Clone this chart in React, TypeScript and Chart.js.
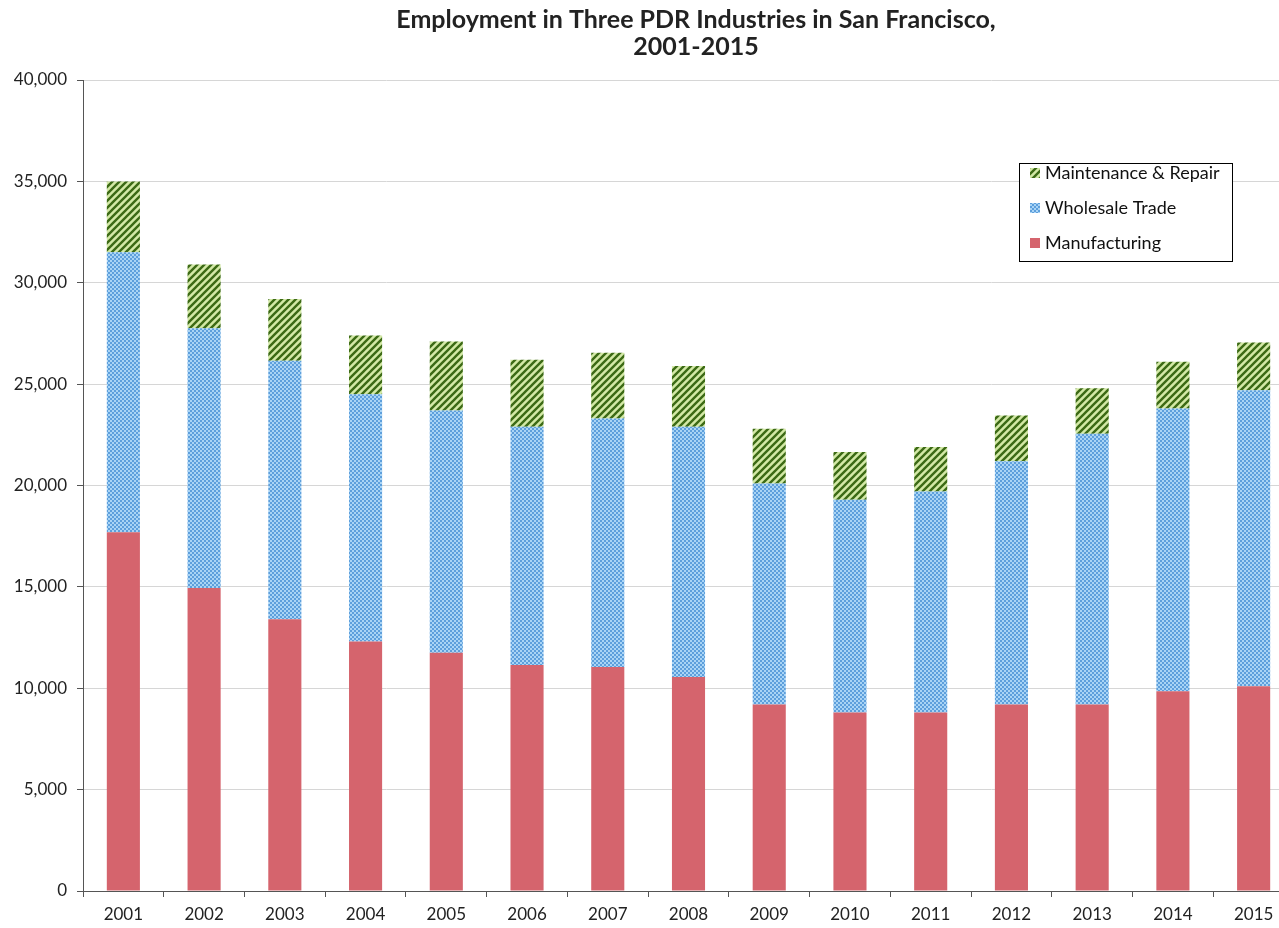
import React, { useEffect, useRef } from "react";
import { Chart, registerables } from "chart.js";

Chart.register(...registerables);

const years = ["2001", "2002", "2003", "2004", "2005", "2006", "2007", "2008", "2009", "2010", "2011", "2012", "2013", "2014", "2015"];
const manufacturing = [17700, 14950, 13400, 12300, 11750, 11150, 11050, 10550, 9200, 8800, 8800, 9200, 9200, 9850, 10100];
const wholesaleTrade = [13800, 12800, 12750, 12200, 11950, 11750, 12250, 12350, 10900, 10500, 10900, 12000, 13350, 13950, 14600];
const maintenanceRepair = [3500, 3150, 3050, 2900, 3400, 3300, 3250, 3000, 2700, 2350, 2200, 2250, 2250, 2300, 2350];
const seriesNames = ["Manufacturing", "Wholesale Trade", "Maintenance & Repair"];
const titleLines = ["Employment in Three PDR Industries in San Francisco,", "2001-2015"];

const FONT = "Lato, 'Open Sans', sans-serif";

function stripePattern(ctx: CanvasRenderingContext2D): CanvasPattern | string {
  const s = 7;
  const c = document.createElement("canvas");
  c.width = s;
  c.height = s;
  const g = c.getContext("2d");
  if (!g) return "#7fa84a";
  g.fillStyle = "#d3e9a6";
  g.fillRect(0, 0, s, s);
  g.strokeStyle = "#3c6a15";
  g.lineWidth = 2.4;
  g.beginPath();
  for (let k = -1; k <= 1; k++) {
    g.moveTo(k * s - 1, s + 1);
    g.lineTo(k * s + s + 1, -1);
  }
  g.stroke();
  return ctx.createPattern(c, "repeat") || "#7fa84a";
}

function meshPattern(ctx: CanvasRenderingContext2D): CanvasPattern | string {
  const s = 4;
  const c = document.createElement("canvas");
  c.width = s;
  c.height = s;
  const g = c.getContext("2d");
  if (!g) return "#8fc3ee";
  g.fillStyle = "#a9d4f5";
  g.fillRect(0, 0, s, s);
  g.fillStyle = "#5d9fdc";
  g.fillRect(0, 0, 2, 2);
  g.fillRect(2, 2, 2, 2);
  return ctx.createPattern(c, "repeat") || "#8fc3ee";
}

const titlePlugin = {
  id: "centredTitle",
  afterDraw(chart: any) {
    const ctx: CanvasRenderingContext2D = chart.ctx;
    ctx.save();
    ctx.fillStyle = "#222222";
    ctx.font = `bold 25px ${FONT}`;
    ctx.textAlign = "center";
    ctx.textBaseline = "middle";
    titleLines.forEach((line, i) => ctx.fillText(line, 696, 20 + i * 27));
    ctx.restore();
  },
};

const legendPlugin = {
  id: "boxLegend",
  afterDraw(chart: any) {
    const ctx: CanvasRenderingContext2D = chart.ctx;
    ctx.save();
    const x = 1019.5, y = 163.5, w = 213, h = 98;
    ctx.fillStyle = "#ffffff";
    ctx.fillRect(x, y, w, h);
    ctx.strokeStyle = "#000000";
    ctx.lineWidth = 1;
    ctx.strokeRect(x, y, w, h);
    const order = [2, 1, 0];
    order.forEach((di, i) => {
      const ds = chart.data.datasets[di];
      const cy = 173 + i * 35;
      ctx.fillStyle = ds.backgroundColor;
      ctx.fillRect(1030, cy - 5, 10, 10);
      ctx.fillStyle = "#111111";
      ctx.font = `18px ${FONT}`;
      ctx.textBaseline = "middle";
      ctx.textAlign = "left";
      ctx.fillText(ds.label, 1045, cy);
    });
    ctx.restore();
  },
};

export default function App() {
  const ref = useRef<HTMLCanvasElement | null>(null);
  useEffect(() => {
    const canvas = ref.current;
    if (!canvas) return;
    const ctx = canvas.getContext("2d");
    if (!ctx) return;
    const chart = new Chart(canvas, {
      type: "bar",
      data: {
        labels: years,
        datasets: [
          { label: seriesNames[0], data: manufacturing, backgroundColor: "#d5646d", borderWidth: 0 },
          { label: seriesNames[1], data: wholesaleTrade, backgroundColor: meshPattern(ctx) as any, borderWidth: 0 },
          { label: seriesNames[2], data: maintenanceRepair, backgroundColor: stripePattern(ctx) as any, borderWidth: 0 },
        ],
      },
      options: {
        responsive: false,
        animation: false,
        devicePixelRatio: 1,
        layout: { padding: { left: 0, right: 98, top: 80, bottom: 0 } },
        datasets: { bar: { categoryPercentage: 1, barPercentage: 0.41 } },
        plugins: {
          legend: { display: false },
          tooltip: { enabled: false },
          title: { display: false },
        },
        scales: {
          x: {
            stacked: true,
            grid: { display: true, drawOnChartArea: false, tickLength: 6, tickColor: "#555555", offset: true },
            border: { display: true, color: "#555555", width: 1 },
            ticks: { color: "#222222", font: { family: FONT, size: 17 }, padding: 7, maxRotation: 0, autoSkip: false },
            afterFit: (s: any) => { s.height = 37; },
          },
          y: {
            stacked: true,
            min: 0,
            max: 40000,
            grid: { color: "#d6d6d6", tickLength: 6, tickColor: "#555555" },
            border: { display: true, color: "#555555", width: 1 },
            ticks: {
              stepSize: 5000,
              color: "#222222",
              font: { family: FONT, size: 17 },
              padding: 10,
              callback: (v: any) => Number(v).toLocaleString("en-US"),
            },
            afterFit: (s: any) => { s.width = 83; },
          },
        },
      } as any,
      plugins: [titlePlugin, legendPlugin],
    });
    return () => chart.destroy();
  }, []);

  return (
    <div style={{ position: "fixed", left: 0, top: 0, width: 1279, height: 928, overflow: "hidden", background: "#ffffff" }}>
      <canvas ref={ref} width={1392} height={928} style={{ width: 1392, height: 928, display: "block" }} />
    </div>
  );
}
